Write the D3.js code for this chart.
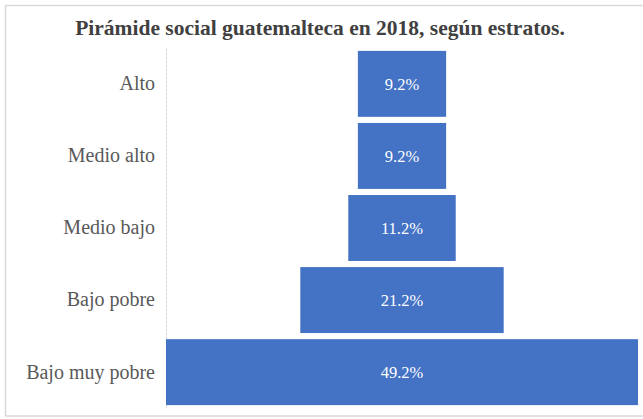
<!DOCTYPE html>
<html>
<head>
<meta charset="utf-8">
<script src="https://cdn.jsdelivr.net/npm/d3@7/dist/d3.min.js"></script>
<style>
  html, body { margin: 0; padding: 0; background: #fff; }
  svg { display: block; }
</style>
</head>
<body>
<svg id="chart" width="643" height="419"></svg>
<script>
// Social strata, top of the pyramid first
const strata = ["Alto", "Medio alto", "Medio bajo", "Bajo pobre", "Bajo muy pobre"];
// Share of the population in each stratum (%)
const shares = [9.2, 9.2, 11.2, 21.2, 49.2];
const title = "Pirámide social guatemalteca en 2018, según estratos.";

const svg = d3.select("#chart");
const W = 643, H = 419;
const font = "'Liberation Serif', 'Times New Roman', serif";

// Outer frame of the chart area
svg.append("rect")
  .attr("x", 5.5).attr("y", 5.5)
  .attr("width", W + 10).attr("height", H - 3 - 5.5)
  .attr("fill", "#fff")
  .attr("stroke", "#d9d9d9").attr("stroke-width", 1.5);

// Title
svg.append("text")
  .attr("x", 320).attr("y", 34.5)
  .attr("text-anchor", "middle")
  .style("font-family", font)
  .style("font-size", "21.5px")
  .style("font-weight", "bold")
  .attr("fill", "#404040")
  .text(title);

const plot = { left: 166, right: 638, top: 48, bottom: 408 };

// Bars are centred on a symmetric axis: each extends share/2 on both sides
const maxShare = d3.max(shares);
const x = d3.scaleLinear()
  .domain([-maxShare / 2, maxShare / 2])
  .range([plot.left, plot.right]);

const y = d3.scaleBand()
  .domain(strata)
  .range([plot.top, plot.bottom])
  .paddingInner(0.085)
  .paddingOuter(0.04);

const data = strata.map((s, i) => ({ stratum: s, share: shares[i] }));

// Category axis on the left
const yAxis = svg.append("g")
  .attr("transform", `translate(${plot.left},0)`)
  .call(d3.axisLeft(y).tickSize(0).tickPadding(11));
yAxis.select(".domain")
  .attr("stroke", "#d9d9d9")
  .attr("stroke-width", 1)
  .attr("stroke-dasharray", "3,1");
yAxis.selectAll(".tick text")
  .style("font-family", font)
  .style("font-size", "20px")
  .attr("fill", "#595959");

// Pyramid bars
svg.append("g").selectAll("rect")
  .data(data)
  .join("rect")
  .attr("x", d => x(-d.share / 2))
  .attr("y", d => y(d.stratum))
  .attr("width", d => x(d.share / 2) - x(-d.share / 2))
  .attr("height", y.bandwidth())
  .attr("fill", "#4472c4");

// Value labels inside the bars
const fmt = d3.format(".1f");
svg.append("g").selectAll("text")
  .data(data)
  .join("text")
  .attr("x", x(0))
  .attr("y", d => y(d.stratum) + y.bandwidth() / 2)
  .attr("dy", "0.35em")
  .attr("text-anchor", "middle")
  .style("font-family", font)
  .style("font-size", "16.5px")
  .attr("fill", "#ffffff")
  .text(d => fmt(d.share) + "%");
</script>
</body>
</html>
